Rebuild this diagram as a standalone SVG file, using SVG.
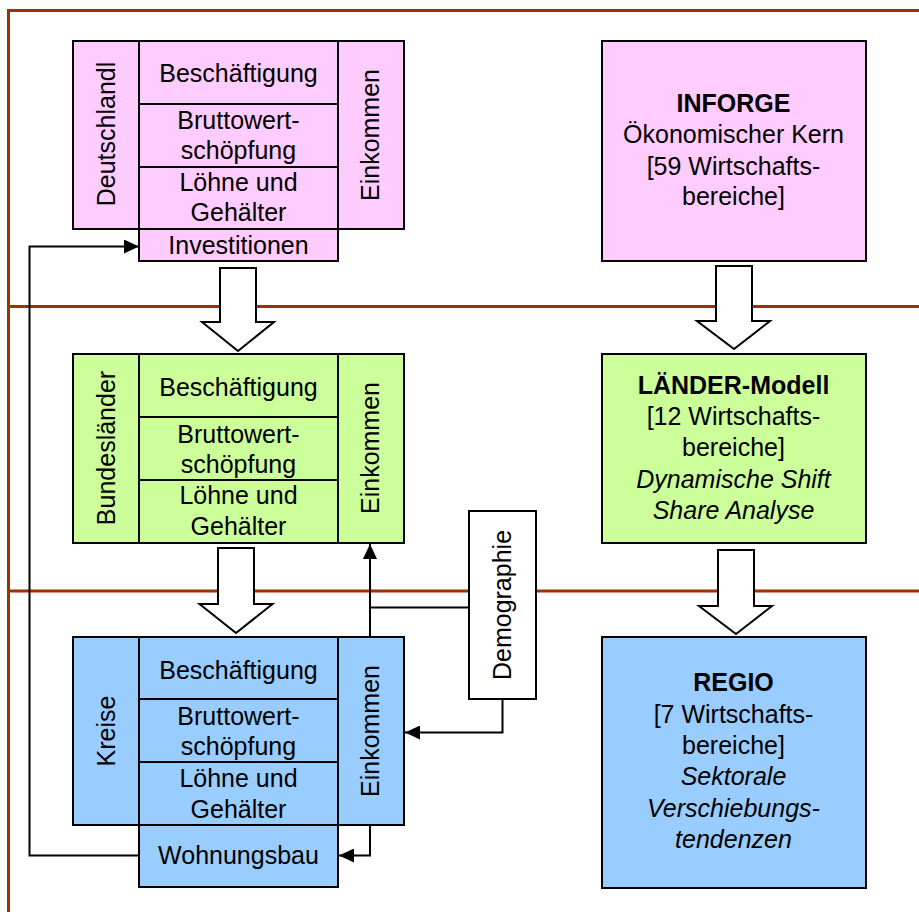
<svg xmlns="http://www.w3.org/2000/svg" width="919" height="912" viewBox="0 0 919 912">
<defs>
<marker id="ah" viewBox="0 0 15 14" refX="15" refY="7" markerWidth="15" markerHeight="14" markerUnits="userSpaceOnUse" orient="auto">
<path d="M0,0 L15,7 L0,14 z" fill="#000"/>
</marker>
</defs>
<style>
.t{font-family:"Liberation Sans",Arial,sans-serif;font-size:25px;fill:#000;text-anchor:middle}
.b{font-weight:bold}
.i{font-style:italic}
.box{stroke:#000;stroke-width:2}
.pk{fill:#FFCCFF}
.gr{fill:#CCFF99}
.bl{fill:#99CCFF}
.wh{fill:#FFFFFF}
.sep{stroke:#993300;stroke-width:3;fill:none}
.con{stroke:#000;stroke-width:2;fill:none}
.blk{fill:#fff;stroke:#000;stroke-width:2;stroke-linejoin:miter}
</style>
<rect width="919" height="912" fill="#fff"/>
<g id="bands">
<path class="sep" d="M8.5,912 V10.5 H919 M8.5,306.5 H919 M8.5,591 H919"/>
</g>

<g id="connectors">
<polygon class="blk" points="220,268 256,268 256,322 274,322 238,351 202,322 220,322"/>
<polygon class="blk" points="218,548 254,548 254,604 272.5,604 236,633 199.5,604 218,604"/>
<polygon class="blk" points="716,266 752,266 752,321 770,321 734,349 697,321 716,321"/>
<polygon class="blk" points="718,550 754,550 754,606 772,606 736,634 699,606 718,606"/>
<path class="con" d="M139,855.5 H29.5 V246.5 H139" marker-end="url(#ah)"/>
<path class="con" d="M370,637 V544" marker-end="url(#ah)"/>
<path class="con" d="M469,607.5 H370"/>
<path class="con" d="M502.5,699 V732.5 H405" marker-end="url(#ah)"/>
<path class="con" d="M370,825 V855.5 H339" marker-end="url(#ah)"/>
</g>

<g id="deutschland">
<rect class="box pk" x="73" y="41" width="66" height="188"/>
<rect class="box pk" x="338" y="41" width="66" height="188"/>
<rect class="box pk" x="139" y="41" width="199" height="63"/>
<rect class="box pk" x="139" y="104" width="199" height="63"/>
<rect class="box pk" x="139" y="167" width="199" height="62"/>
<rect class="box pk" x="139" y="229" width="199" height="32"/>
<text class="t" transform="translate(106,134) rotate(-90)" y="9">Deutschlandl</text>
<text class="t" transform="translate(370,135) rotate(-90)" y="9">Einkommen</text>
<text class="t" x="238.5" y="82">Beschäftigung</text>
<text class="t" x="238.5" y="128.5">Bruttowert-</text>
<text class="t" x="238.5" y="158.5">schöpfung</text>
<text class="t" x="238.5" y="190.5">Löhne und</text>
<text class="t" x="238.5" y="221">Gehälter</text>
<text class="t" x="238.5" y="253.5">Investitionen</text>
</g>

<g id="inforge">
<rect class="box pk" x="602" y="41" width="264" height="220"/>
<text class="t b" x="733.5" y="112">INFORGE</text>
<text class="t" x="733.5" y="143">Ökonomischer Kern</text>
<text class="t" x="733.5" y="174.5">[59 Wirtschafts-</text>
<text class="t" x="733.5" y="205">bereiche]</text>
</g>

<g id="bundeslaender">
<rect class="box gr" x="73" y="354" width="66" height="189"/>
<rect class="box gr" x="338" y="354" width="66" height="189"/>
<rect class="box gr" x="139" y="354" width="199" height="63"/>
<rect class="box gr" x="139" y="417" width="199" height="63"/>
<rect class="box gr" x="139" y="480" width="199" height="63"/>
<text class="t" transform="translate(106,448) rotate(-90)" y="9">Bundesländer</text>
<text class="t" transform="translate(370,448) rotate(-90)" y="9">Einkommen</text>
<text class="t" x="238.5" y="396">Beschäftigung</text>
<text class="t" x="238.5" y="442.5">Bruttowert-</text>
<text class="t" x="238.5" y="472.5">schöpfung</text>
<text class="t" x="238.5" y="504">Löhne und</text>
<text class="t" x="238.5" y="535">Gehälter</text>
</g>

<g id="laender-modell">
<rect class="box gr" x="602" y="354" width="264" height="189"/>
<text class="t b" x="733.5" y="393.5">LÄNDER-Modell</text>
<text class="t" x="733.5" y="425">[12 Wirtschafts-</text>
<text class="t" x="733.5" y="456">bereiche]</text>
<text class="t i" x="733.5" y="487.5">Dynamische Shift</text>
<text class="t i" x="733.5" y="519">Share Analyse</text>
</g>

<g id="kreise">
<rect class="box bl" x="73" y="637" width="66" height="188"/>
<rect class="box bl" x="338" y="637" width="66" height="188"/>
<rect class="box bl" x="139" y="637" width="199" height="62"/>
<rect class="box bl" x="139" y="699" width="199" height="63"/>
<rect class="box bl" x="139" y="762" width="199" height="63"/>
<rect class="box bl" x="139" y="825" width="199" height="62"/>
<text class="t" transform="translate(106,731) rotate(-90)" y="9">Kreise</text>
<text class="t" transform="translate(370,731) rotate(-90)" y="9">Einkommen</text>
<text class="t" x="238.5" y="678.5">Beschäftigung</text>
<text class="t" x="238.5" y="725">Bruttowert-</text>
<text class="t" x="238.5" y="755">schöpfung</text>
<text class="t" x="238.5" y="786.5">Löhne und</text>
<text class="t" x="238.5" y="817.5">Gehälter</text>
<text class="t" x="238.5" y="864">Wohnungsbau</text>
</g>

<g id="regio">
<rect class="box bl" x="602" y="637" width="264" height="251"/>
<text class="t b" x="733.5" y="691">REGIO</text>
<text class="t" x="733.5" y="722.5">[7 Wirtschafts-</text>
<text class="t" x="733.5" y="754">bereiche]</text>
<text class="t i" x="733.5" y="785">Sektorale</text>
<text class="t i" x="733.5" y="816.5">Verschiebungs-</text>
<text class="t i" x="733.5" y="848">tendenzen</text>
</g>

<g id="demographie">
<rect class="box wh" x="469" y="511" width="67" height="188"/>
<text class="t" transform="translate(501.5,605) rotate(-90)" y="9">Demographie</text>
</g>
</svg>
